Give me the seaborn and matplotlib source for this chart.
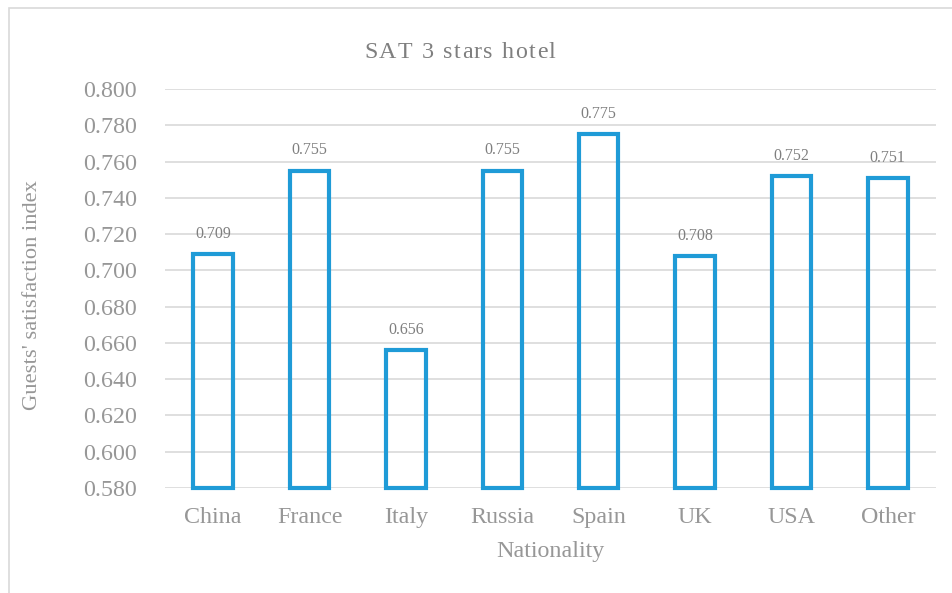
import matplotlib
matplotlib.use("Agg")
import matplotlib.pyplot as plt
import seaborn as sns
import pandas as pd
from matplotlib.patches import Rectangle

nationalities = ["China", "France", "Italy", "Russia", "Spain", "UK", "USA", "Other"]
satisfaction = [0.709, 0.755, 0.656, 0.755, 0.775, 0.708, 0.752, 0.751]
y_ticks = [0.580, 0.600, 0.620, 0.640, 0.660, 0.680, 0.700, 0.720, 0.740, 0.760, 0.780, 0.800]
axis_min, axis_max = 0.58, 0.80
chart_title = "SAT 3 stars hotel"

df = pd.DataFrame({"Nationality": nationalities, "SAT": satisfaction})

sns.set_theme(style="white")
plt.rcParams["font.family"] = ["Liberation Serif", "DejaVu Serif"]

bar_blue = "#1F9BD7"
tick_grey = "#979797"
text_grey = "#7F7F7F"

W, H = 952, 593
fig = plt.figure(figsize=(W / 100, H / 100), dpi=100)
ax = fig.add_axes([165 / W, 1 - 488 / H, (936 - 165) / W, (488 - 89) / H])

sns.barplot(data=df, x="Nationality", y="SAT", ax=ax, fill=False,
            color=bar_blue, linewidth=3, width=0.41, zorder=3)

# bars rise from the axis minimum, like a spreadsheet chart
for patch, val in zip(ax.patches, satisfaction):
    patch.set_y(axis_min)
    patch.set_height(val - axis_min)
    patch.set_edgecolor(bar_blue)
    patch.set_joinstyle("miter")
    patch.set_clip_on(False)
    ax.annotate(f"{val:.3f}", (patch.get_x() + patch.get_width() / 2, val),
                xytext=(0, 14.5), textcoords="offset points", ha="center",
                va="center", fontsize=11.5, color=text_grey)

ax.set_ylim(axis_min, axis_max)
ax.set_yticks(y_ticks)
ax.set_yticklabels([f"{t:.3f}" for t in y_ticks])
ax.set_xlim(-0.5, len(nationalities) - 0.5)
ax.yaxis.grid(True, color="#D9D9D9", linewidth=1.2, zorder=0)
ax.set_axisbelow(True)
for s in ax.spines.values():
    s.set_visible(False)
ax.tick_params(axis="both", length=0, labelsize=17.3, labelcolor=tick_grey)
ax.tick_params(axis="y", pad=20)
ax.tick_params(axis="x", pad=14)

ax.set_xlabel("")
ax.set_ylabel("")
fig.text(550 / W, 1 - 551 / H, "Nationality", ha="center", va="center",
         fontsize=17.3, color=tick_grey)
fig.text(33 / W, 1 - 295 / H, "Guests' satisfaction index", ha="center",
         va="center", rotation=90, fontsize=16.2, color=tick_grey)


def spaced_title(text, cx, cy, size, gap, color):
    """Draw text centred at (cx, cy) pixels with extra letter spacing."""
    renderer = fig.canvas.get_renderer()
    widths = []
    for ch in text:
        t = fig.text(0, 0, ch if ch != " " else "a a", fontsize=size)
        w = t.get_window_extent(renderer).width
        if ch == " ":
            t2 = fig.text(0, 0, "aa", fontsize=size)
            w -= t2.get_window_extent(renderer).width
            t2.remove()
        t.remove()
        widths.append(w)
    total = sum(widths) + gap * (len(text) - 1)
    x = cx - total / 2
    for ch, w in zip(text, widths):
        if ch != " ":
            fig.text(x / W, 1 - cy / H, ch, ha="left", va="center",
                     fontsize=size, color=color)
        x += w + gap


spaced_title(chart_title, 460, 53, 17.3, 1.5, text_grey)

# chart area frame
fig.patches.append(Rectangle((9 / W, -0.05), 1.1, 1 - 8 / H + 0.05,
                             transform=fig.transFigure, fill=False,
                             edgecolor="#D9D9D9", linewidth=1.2))

fig.savefig("out.png", dpi=100)
